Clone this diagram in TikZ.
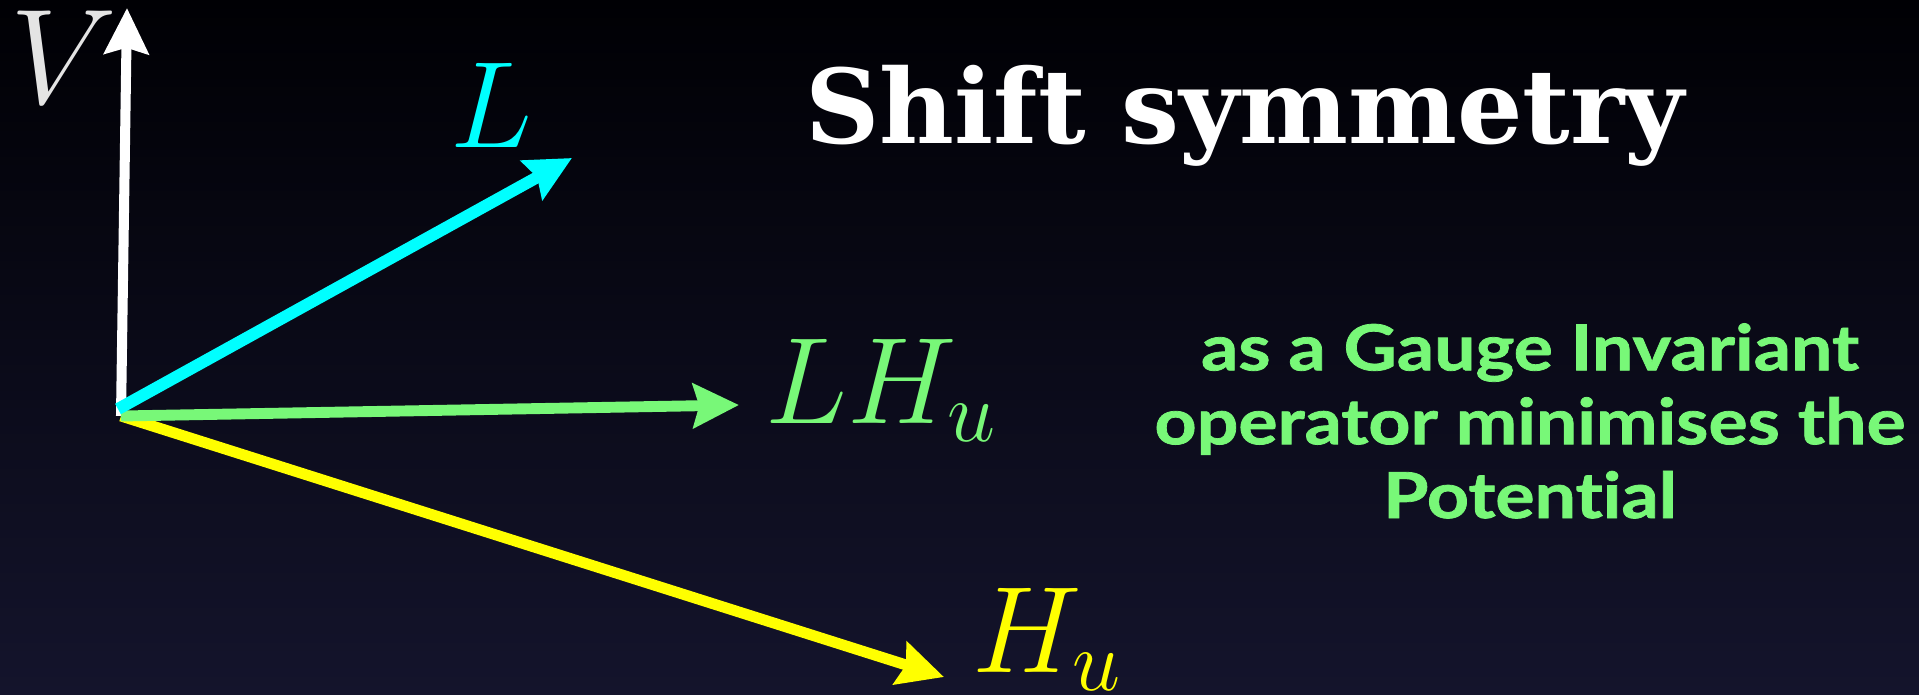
\RequirePackage{fix-cm}
\documentclass[tikz,border=0pt]{standalone}
\usepackage{amsmath}
\usepackage{fontspec}
\usepackage{tikz}
\usetikzlibrary{arrows.meta}

\newfontfamily\titlefont{DejaVu Serif}
\newfontfamily\notefont{Lato}[FakeStretch=1.16,FakeBold=1.2,Ligatures={NoCommon}]

\definecolor{skytop}{RGB}{0,0,4}
\definecolor{skybot}{RGB}{20,20,44}
\definecolor{vgrey}{RGB}{228,228,228}
\definecolor{lgreen}{RGB}{120,248,120}
\definecolor{lcyan}{RGB}{0,255,255}
\definecolor{lyellow}{RGB}{255,255,0}

\tikzset{
  vec/.style={line width=3.1pt,-{Stealth[length=13pt,width=12.5pt,inset=1.7pt]}},
  lbl/.style={inner sep=0pt,anchor=base,font=\fontsize{35}{40}\selectfont}
}

\begin{document}
\begin{tikzpicture}[x=0.01cm,y=-0.01cm]
			\shade[top color=skytop,bottom color=skybot] (0,0) rectangle (1919,694);
			\useasboundingbox (0,0) rectangle (1919,694);
			% field directions
			\coordinate (O) at (121,416);
			\coordinate (Vtip) at (127,8);
			\coordinate (Ltip) at (572,158);
			\coordinate (LHtip) at (739,405);
			\coordinate (Htip) at (944,677);
			\draw[vec,white,line width=2.85pt] (O) -- (Vtip);
			\draw[vec,lyellow] (O) -- (Htip);
			\draw[vec,lgreen] (O) -- (LHtip);
			\draw[vec,lcyan,line width=3.4pt] (118,409) -- (Ltip);
			\node[lbl,vgrey,font=\fontsize{38.5}{40}\selectfont] (Vlbl) at (64,103) {$V$};
			\node[lbl,lcyan] (Llbl) at (491,147) {$L$};
			\node[lbl,lgreen] (LHlbl) at (881,423) {$LH_u$};
			\node[lbl,lyellow] (Hlbl) at (1047,672) {$H_u$};
			\node[white,inner sep=0pt,anchor=base,font=\titlefont\bfseries\fontsize{29.3}{32}\selectfont] (title) at (1245,143) {Shift symmetry};
			\node[lgreen,inner sep=0pt,anchor=base,align=center,font=\notefont\bfseries\fontsize{18}{21}\selectfont] (note) at (1530,518) {as a Gauge Invariant\\operator minimises the\\Potential};
		\end{tikzpicture}
\end{document}
